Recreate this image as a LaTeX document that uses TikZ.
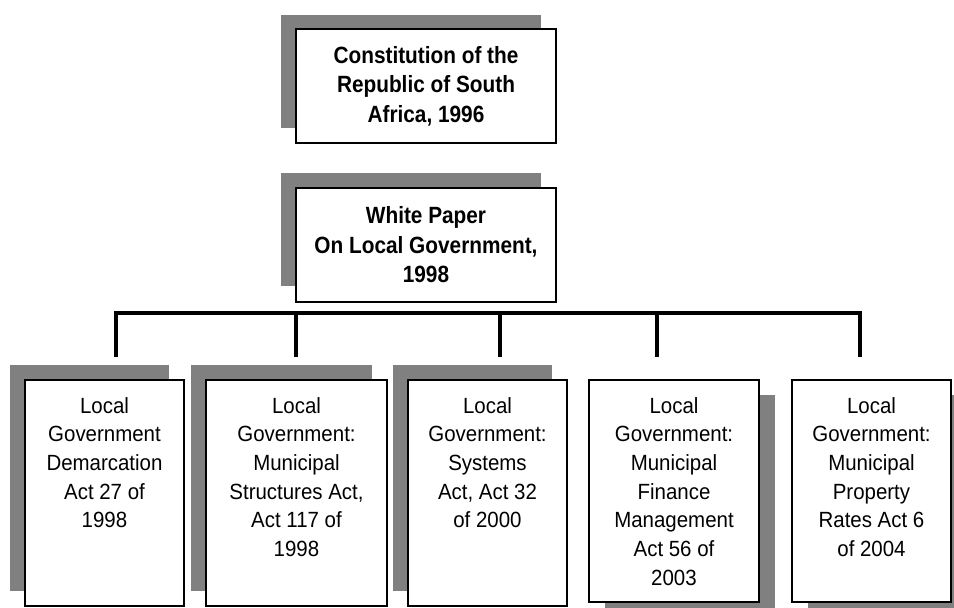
\documentclass[tikz,border=0pt]{standalone}
\usepackage{fontspec}
\setmainfont{Liberation Sans}[FakeStretch=0.93]
\newfontfamily\narrowbold{Liberation Sans Bold}[FakeStretch=0.885]
\usetikzlibrary{calc}
\definecolor{shade}{RGB}{128,128,128}
\tikzset{
  shadowfill/.style={fill=shade, draw=none},
  box/.style={draw=black, line width=1.3pt, fill=white, inner sep=0pt, rectangle},
  bigtext/.style={align=center, font=\narrowbold\fontsize{23.5}{29.5}\selectfont},
  smalltext/.style={align=center, font=\fontsize{22}{28.7}\selectfont, inner sep=0pt, anchor=north},
  bar/.style={line width=4.7pt, line join=miter, line cap=butt}
}
\begin{document}
\begin{tikzpicture}[x=1pt,y=-1pt]
\useasboundingbox (0,0) rectangle (954,608);
% shadows
\fill[shadowfill] (281,15) rectangle (541,128);
\fill[shadowfill] (281,173) rectangle (541,286);
\fill[shadowfill] (10,365) rectangle (169,591);
\fill[shadowfill] (191,365) rectangle (372,591);
\fill[shadowfill] (393,365) rectangle (552,591);
\fill[shadowfill] (605,395) rectangle (775,617);
\fill[shadowfill] (808,395) rectangle (967,617);
% top boxes
\node[box, bigtext, minimum width=260pt, minimum height=114pt] (c) at (426,86)
  {Constitution of the\\Republic of South\\Africa, 1996};
\node[box, bigtext, minimum width=260pt, minimum height=114pt] (w) at (426,245)
  {White Paper\\On Local Government,\\1998};
% bottom boxes
\node[box, minimum width=159pt, minimum height=226pt] (b1) at (104.5,493) {};
\node[box, minimum width=181pt, minimum height=226pt] (b2) at (296.5,493) {};
\node[box, minimum width=159pt, minimum height=226pt] (b3) at (487.5,493) {};
\node[box, minimum width=170pt, minimum height=222pt] (b4) at (674,491) {};
\node[box, minimum width=159pt, minimum height=222pt] (b5) at (871.5,491) {};
\node[smalltext] (t1) at (104.5,397) {Local\\Government\\Demarcation\\Act 27 of\\1998};
\node[smalltext] (t2) at (296.5,397) {Local\\Government:\\Municipal\\Structures Act,\\Act 117 of\\1998};
\node[smalltext] (t3) at (487.5,397) {Local\\Government:\\Systems\\Act, Act 32\\of 2000};
\node[smalltext] (t4) at (674,397) {Local\\Government:\\Municipal\\Finance\\Management\\Act 56 of\\2003};
\node[smalltext] (t5) at (871.5,397) {Local\\Government:\\Municipal\\Property\\Rates Act 6\\of 2004};
% connector bar
\coordinate (j1) at (116,313);
\coordinate (j2) at (296,313);
\coordinate (j3) at (500,313);
\coordinate (j4) at (657,313);
\coordinate (j5) at (860,313);
\coordinate (d1) at (116,357);
\coordinate (d2) at (296,357);
\coordinate (d3) at (500,357);
\coordinate (d4) at (657,357);
\coordinate (d5) at (860,357);
\draw[bar] (d1) -- (j1) -- (j5) -- (d5);
\draw[bar] (j2) -- (d2);
\draw[bar] (j3) -- (d3);
\draw[bar] (j4) -- (d4);
\end{tikzpicture}
\end{document}
